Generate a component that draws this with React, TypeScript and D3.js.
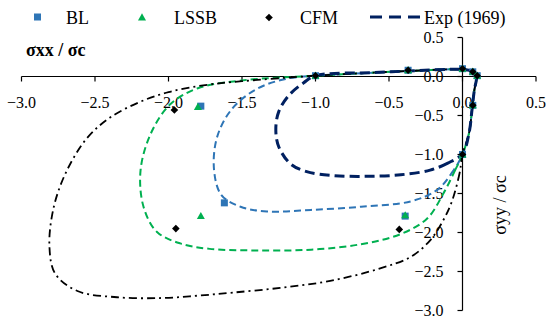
import * as d3 from 'd3';

type Pt = [number, number];

// shared top / right edge that all loops follow
const topEdge: Pt[] = [
  [-1.0, 0.01], [-0.6, 0.05], [-0.37, 0.07], [0.0, 0.09], [0.07, 0.065],
  [0.095, 0.01], [0.08, -0.18], [0.065, -0.42], [0.045, -0.72],
];

const blCurve: Pt[] = [
  [0.0, -1.0], [-0.06, -1.2], [-0.17, -1.45], [-0.35, -1.6], [-0.69, -1.67],
  [-1.03, -1.71], [-1.33, -1.73], [-1.51, -1.67], [-1.64, -1.52], [-1.69, -1.2],
  [-1.67, -0.78], [-1.57, -0.42], [-1.4, -0.16], [-1.2, -0.03],
];
const lssbCurve: Pt[] = [
  [0.0, -1.0], [-0.05, -1.2], [-0.13, -1.5], [-0.24, -1.82], [-0.42, -2.02],
  [-0.69, -2.15], [-1.03, -2.22], [-1.4, -2.23], [-1.72, -2.21], [-1.92, -2.14],
  [-2.08, -1.99], [-2.17, -1.67], [-2.19, -1.2], [-2.12, -0.73], [-1.99, -0.36],
  [-1.8, -0.15], [-1.5, -0.05],
];
const cfmCurve: Pt[] = [
  [0.0, -1.0], [-0.02, -1.24], [-0.07, -1.59], [-0.13, -1.84], [-0.22, -2.1],
  [-0.35, -2.31], [-0.56, -2.46], [-0.9, -2.62], [-1.24, -2.71], [-1.56, -2.77],
  [-1.8, -2.81], [-2.05, -2.84], [-2.35, -2.83], [-2.62, -2.75], [-2.77, -2.53],
  [-2.81, -2.18], [-2.78, -1.67], [-2.69, -1.2], [-2.55, -0.78], [-2.4, -0.53],
  [-2.2, -0.33], [-2.0, -0.2], [-1.75, -0.11], [-1.5, -0.06],
];
const expCurve: Pt[] = [
  [0.0, -0.99], [-0.1, -1.11], [-0.22, -1.2], [-0.42, -1.26], [-0.65, -1.28],
  [-0.88, -1.27], [-1.06, -1.22], [-1.17, -1.12], [-1.25, -0.9], [-1.27, -0.68],
  [-1.25, -0.45], [-1.18, -0.24], [-1.08, -0.08],
];

const sharedPoints: Pt[] = [
  [-1.0, 0.01], [-0.37, 0.08], [0.0, 0.1], [0.07, 0.06], [0.1, 0.01], [0.07, -0.37], [0.0, -1.0],
];
const blPoints: Pt[] = [[-1.78, -0.38], [-1.62, -1.62], [-0.39, -1.79]];
const lssbPoints: Pt[] = [[-1.8, -0.39], [-1.78, -1.79], [-0.39, -1.78]];
const cfmPoints: Pt[] = [[-1.96, -0.43], [-1.95, -1.95], [-0.43, -1.96]];

const ticks = [-3.0, -2.5, -2.0, -1.5, -1.0, -0.5, 0.0, 0.5];

const BLUE = '#2E75B6';
const GREEN = '#00B050';
const NAVY = '#002060';
const FONT = '"Liberation Serif", "DejaVu Serif", serif';

const x = d3.scaleLinear([-3, 0.5], [21.5, 536]);
const y = d3.scaleLinear([-3, 0.5], [310.5, 37.5]);

const loop = d3
  .line<Pt>()
  .x((d) => x(d[0]))
  .y((d) => y(d[1]))
  .curve(d3.curveCatmullRomClosed.alpha(0.5));

const fmt = (v: number) => d3.format('.1f')(v).replace('-', '\u2212');

function Square({ cx, cy, fill }: { cx: number; cy: number; fill: string }) {
  return <rect x={cx - 3.5} y={cy - 3.5} width={7} height={7} fill={fill} />;
}
function Triangle({ cx, cy, fill }: { cx: number; cy: number; fill: string }) {
  return <path d={`M${cx},${cy - 4.2}L${cx + 4},${cy + 3}L${cx - 4},${cy + 3}Z`} fill={fill} />;
}
function Diamond({ cx, cy, fill }: { cx: number; cy: number; fill: string }) {
  return <path d={`M${cx},${cy - 3.8}L${cx + 3.8},${cy}L${cx},${cy + 3.8}L${cx - 3.8},${cy}Z`} fill={fill} />;
}

export default function App() {
  const x0 = x(0);
  const y0 = y(0);
  return (
    <svg
      width={550}
      height={325}
      style={{ position: 'absolute', left: 0, top: 0, background: '#fff' }}
      fontFamily={FONT}
    >
      {/* axes */}
      <line x1={x(-3)} x2={x(0.5)} y1={y0} y2={y0} stroke="#000" strokeWidth={1.2} />
      <line x1={x0} x2={x0} y1={y(0.5)} y2={y(-3)} stroke="#000" strokeWidth={1.2} />
      {ticks.map((t) => (
        <g key={'x' + t}>
          <line x1={x(t)} x2={x(t)} y1={y0} y2={y0 + 5} stroke="#000" strokeWidth={1.2} />
          <text x={x(t)} y={y0 + 31} fontSize={16} textAnchor="middle">
            {fmt(t)}
          </text>
        </g>
      ))}
      {ticks.map((t) => (
        <g key={'y' + t}>
          <line x1={x0 - 5} x2={x0} y1={y(t)} y2={y(t)} stroke="#000" strokeWidth={1.2} />
          <text x={x0 - 19} y={y(t) + 5.5} fontSize={16} textAnchor="end">
            {fmt(t)}
          </text>
        </g>
      ))}

      {/* axis titles */}
      <text x={26} y={56} fontSize={18} fontWeight="bold">
        σxx / σc
      </text>
      <text transform="translate(506,205) rotate(-90)" fontSize={18} textAnchor="middle">
        σyy / σc
      </text>

      {/* curves */}
      <path d={loop(blCurve.concat(topEdge)) ?? ''} fill="none" stroke={BLUE} strokeWidth={2} strokeDasharray="7,4" />
      <path d={loop(lssbCurve.concat(topEdge)) ?? ''} fill="none" stroke={GREEN} strokeWidth={2} strokeDasharray="7,4" />
      <path
        d={loop(cfmCurve.concat(topEdge)) ?? ''}
        fill="none"
        stroke="#000"
        strokeWidth={1.8}
        strokeDasharray="8,4,2,4"
      />
      <path d={loop(expCurve.concat(topEdge)) ?? ''} fill="none" stroke={NAVY} strokeWidth={3} strokeDasharray="10,5" />

      {/* markers */}
      {sharedPoints.concat(blPoints).map((d, i) => (
        <Square key={'b' + i} cx={x(d[0])} cy={y(d[1])} fill={BLUE} />
      ))}
      {sharedPoints.concat(lssbPoints).map((d, i) => (
        <Triangle key={'l' + i} cx={x(d[0])} cy={y(d[1])} fill={GREEN} />
      ))}
      {sharedPoints.concat(cfmPoints).map((d, i) => (
        <Diamond key={'c' + i} cx={x(d[0])} cy={y(d[1])} fill="#000" />
      ))}

      {/* legend */}
      <Square cx={37.5} cy={17} fill={BLUE} />
      <text x={66} y={24} fontSize={18}>BL</text>
      <Triangle cx={142} cy={17.5} fill={GREEN} />
      <text x={174} y={24} fontSize={18}>LSSB</text>
      <Diamond cx={269} cy={17.5} fill="#000" />
      <text x={300} y={24} fontSize={18}>CFM</text>
      <line x1={370} x2={421} y1={17} y2={17} stroke={NAVY} strokeWidth={3} strokeDasharray="12,7" />
      <text x={424} y={24} fontSize={18}>Exp (1969)</text>
    </svg>
  );
}
